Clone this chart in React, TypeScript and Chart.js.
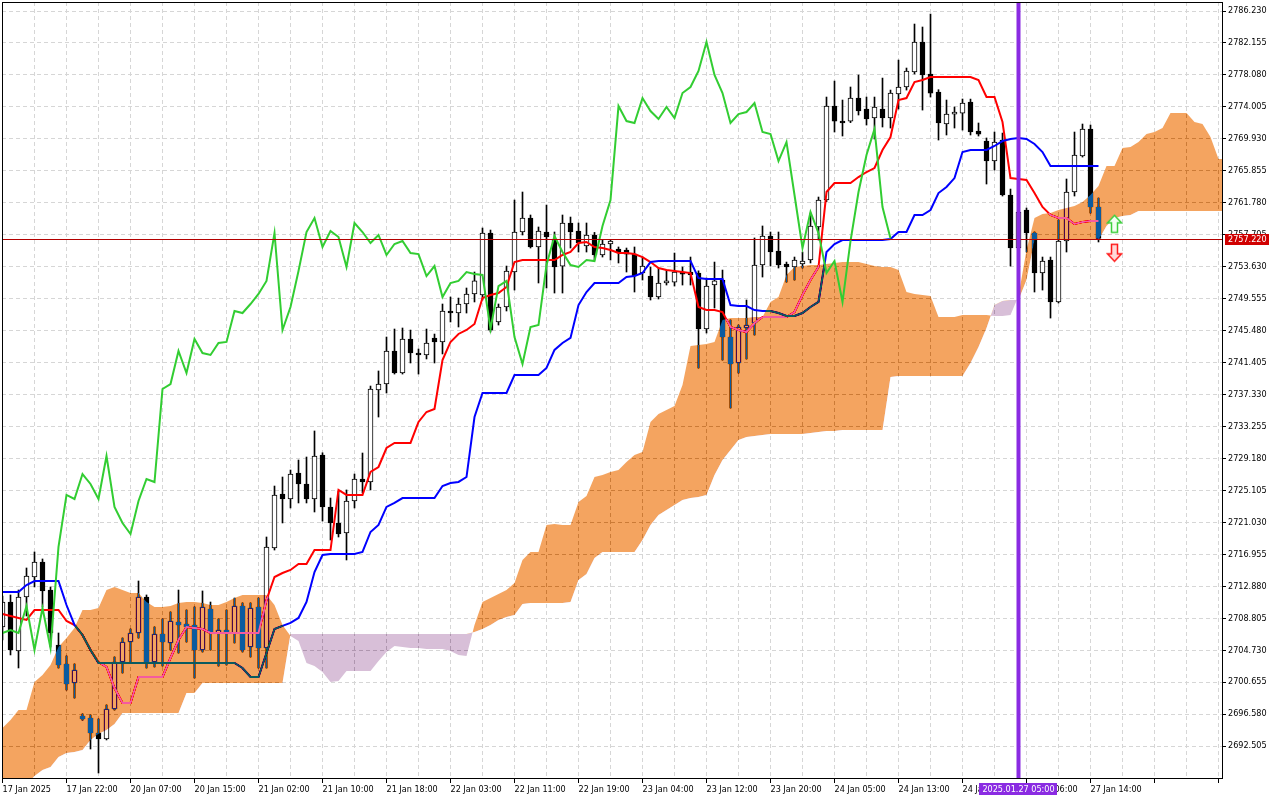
import React, { useEffect, useRef } from "react";
import { Chart, registerables } from "chart.js";

Chart.register(...registerables);

const FONT = "'DejaVu Sans Condensed', 'Liberation Sans', Arial, sans-serif";

// one label every 8 hourly bars
const timeLabels = [
  "17 Jan 2025", "17 Jan 22:00", "20 Jan 07:00", "20 Jan 15:00", "21 Jan 02:00", "21 Jan 10:00",
  "21 Jan 18:00", "22 Jan 03:00", "22 Jan 11:00", "22 Jan 19:00", "23 Jan 04:00", "23 Jan 12:00",
  "23 Jan 20:00", "24 Jan 05:00", "24 Jan 13:00", "24 Jan 21:00", "27 Jan 06:00", "27 Jan 14:00",
];

const priceTicks = [
  2692.505, 2696.58, 2700.655, 2704.73, 2708.805, 2712.88, 2716.955, 2721.03, 2725.105, 2729.18,
  2733.255, 2737.33, 2741.405, 2745.48, 2749.555, 2753.63, 2757.705, 2761.78, 2765.855, 2769.93,
  2774.005, 2778.08, 2782.155, 2786.23,
];

const opens = [
  2707.69, 2710.87, 2704.63, 2711.51, 2714.06, 2715.97, 2712.40, 2705.39, 2702.97, 2700.55,
  2696.34, 2696.08, 2694.17, 2693.41, 2697.23, 2703.22, 2705.77, 2706.92, 2711.51, 2703.22,
  2706.79, 2705.65, 2708.32, 2708.07, 2707.94, 2704.75, 2709.98, 2706.92, 2707.30, 2706.92,
  2710.36, 2705.14, 2710.24, 2705.01, 2717.76, 2724.64, 2724.01, 2727.32, 2725.92, 2724.01,
  2729.62, 2722.99, 2720.95, 2719.67, 2723.75, 2726.56, 2726.17, 2737.90, 2738.67, 2742.88,
  2740.07, 2744.41, 2742.62, 2742.37, 2744.54, 2744.03, 2747.98, 2747.72, 2748.87, 2750.15,
  2750.02, 2757.92, 2746.58, 2748.49, 2752.95, 2758.05, 2759.83, 2756.14, 2758.05, 2757.03,
  2753.71, 2759.20, 2758.18, 2756.27, 2757.67, 2755.12, 2756.52, 2755.88, 2755.75, 2755.24,
  2752.82, 2752.44, 2749.76, 2751.55, 2751.67, 2752.95, 2752.95, 2752.82, 2745.68, 2751.29,
  2751.93, 2744.66, 2741.35, 2745.81, 2746.45, 2753.84, 2757.54, 2755.63, 2753.97, 2753.59,
  2753.97, 2754.48, 2758.69, 2762.13, 2774.11, 2772.20, 2772.20, 2775.13, 2773.73, 2772.59,
  2773.73, 2772.59, 2775.65, 2776.54, 2778.45, 2782.27, 2778.20, 2775.90, 2771.82, 2773.09,
  2773.22, 2774.62, 2770.93, 2769.65, 2767.10, 2769.78, 2762.77, 2756.01, 2760.85, 2757.92,
  2752.82, 2754.48, 2749.13, 2756.90, 2763.15, 2767.74, 2771.18, 2761.24,
];

const highs = [
  2711.64, 2711.77, 2712.40, 2715.21, 2717.25, 2716.36, 2712.79, 2706.92, 2703.99, 2702.97,
  2696.60, 2696.47, 2695.96, 2697.74, 2703.86, 2706.28, 2707.43, 2713.55, 2711.77, 2707.69,
  2708.71, 2709.60, 2712.40, 2709.85, 2710.24, 2712.28, 2710.87, 2708.71, 2709.85, 2711.38,
  2710.75, 2710.75, 2711.38, 2719.16, 2725.66, 2726.81, 2727.70, 2728.98, 2729.36, 2732.68,
  2729.90, 2724.13, 2725.03, 2725.16, 2727.19, 2729.87, 2738.41, 2740.33, 2744.66, 2745.68,
  2745.81, 2745.55, 2743.13, 2745.68, 2745.04, 2748.87, 2749.76, 2749.63, 2750.91, 2752.95,
  2758.56, 2758.30, 2748.87, 2753.71, 2762.13, 2763.15, 2760.22, 2758.69, 2761.49, 2758.05,
  2760.22, 2759.96, 2759.20, 2759.20, 2758.00, 2757.03, 2757.10, 2756.14, 2756.01, 2756.14,
  2754.86, 2753.59, 2753.46, 2753.20, 2755.37, 2753.59, 2754.86, 2753.10, 2752.18, 2754.22,
  2753.20, 2746.83, 2746.19, 2749.38, 2757.29, 2758.82, 2758.05, 2758.05, 2754.22, 2754.86,
  2755.50, 2760.47, 2762.51, 2775.26, 2777.30, 2774.88, 2776.54, 2778.07, 2775.26, 2775.26,
  2777.68, 2776.15, 2779.98, 2778.96, 2784.57, 2784.19, 2785.84, 2776.20, 2774.88, 2773.99,
  2775.01, 2775.00, 2771.95, 2770.04, 2770.80, 2770.67, 2763.53, 2761.49, 2761.11, 2758.05,
  2754.86, 2754.86, 2759.58, 2764.81, 2770.80, 2771.82, 2771.69, 2762.38,
];

const lows = [
  2706.03, 2704.12, 2702.46, 2709.09, 2712.79, 2710.24, 2705.14, 2702.46, 2699.65, 2698.63,
  2695.80, 2692.13, 2689.07, 2693.28, 2697.10, 2701.82, 2703.22, 2706.28, 2702.46, 2702.59,
  2702.71, 2704.75, 2704.37, 2705.77, 2701.18, 2704.50, 2704.75, 2702.71, 2702.84, 2705.65,
  2704.50, 2703.86, 2702.46, 2702.46, 2717.50, 2720.95, 2722.86, 2723.50, 2723.50, 2722.35,
  2721.20, 2718.78, 2719.16, 2716.23, 2722.86, 2724.77, 2725.16, 2734.46, 2737.52, 2739.94,
  2739.94, 2741.35, 2739.94, 2741.86, 2741.35, 2742.50, 2746.58, 2745.94, 2747.72, 2749.13,
  2749.38, 2745.30, 2746.19, 2747.98, 2750.65, 2757.67, 2756.01, 2751.55, 2750.91, 2750.27,
  2750.27, 2756.01, 2755.50, 2755.50, 2754.48, 2754.86, 2754.48, 2754.10, 2752.95, 2750.40,
  2751.93, 2749.38, 2749.51, 2751.29, 2751.16, 2751.29, 2751.29, 2740.71, 2745.17, 2748.36,
  2741.73, 2735.61, 2740.07, 2741.86, 2744.92, 2752.31, 2753.71, 2753.46, 2751.67, 2751.93,
  2753.46, 2754.10, 2757.03, 2761.90, 2770.80, 2770.29, 2772.00, 2772.97, 2771.69, 2769.91,
  2771.44, 2771.31, 2773.73, 2776.15, 2778.20, 2773.60, 2775.26, 2769.78, 2770.42, 2771.31,
  2771.05, 2770.42, 2770.29, 2764.17, 2765.95, 2762.64, 2753.71, 2754.22, 2755.50, 2750.40,
  2750.65, 2747.08, 2749.00, 2755.50, 2762.64, 2767.61, 2760.47, 2756.78,
];

const closes = [
  2710.87, 2704.75, 2711.51, 2714.19, 2715.97, 2712.28, 2706.92, 2702.84, 2700.42, 2702.20,
  2695.96, 2694.17, 2693.41, 2697.23, 2703.22, 2705.77, 2706.92, 2711.51, 2703.10, 2706.79,
  2705.77, 2708.45, 2707.94, 2707.69, 2704.75, 2710.24, 2706.92, 2707.30, 2706.92, 2710.36,
  2704.75, 2710.11, 2705.01, 2717.89, 2724.52, 2724.01, 2727.19, 2725.92, 2724.01, 2729.49,
  2722.99, 2720.95, 2719.54, 2723.75, 2726.56, 2726.17, 2738.03, 2738.67, 2742.88, 2740.07,
  2744.41, 2742.62, 2742.37, 2743.90, 2744.03, 2747.98, 2747.72, 2748.87, 2750.15, 2751.81,
  2757.92, 2745.55, 2748.49, 2753.08, 2758.05, 2759.83, 2756.14, 2758.18, 2757.41, 2753.59,
  2759.20, 2758.05, 2756.65, 2757.67, 2755.12, 2756.52, 2756.90, 2755.37, 2755.24, 2752.44,
  2753.71, 2749.76, 2751.55, 2751.81, 2752.95, 2752.69, 2752.57, 2745.68, 2751.16, 2751.81,
  2744.66, 2741.22, 2745.94, 2746.19, 2753.84, 2757.54, 2755.50, 2753.84, 2753.59, 2754.48,
  2754.35, 2758.82, 2762.13, 2774.11, 2772.20, 2771.95, 2775.13, 2773.48, 2772.46, 2773.99,
  2772.59, 2775.77, 2776.54, 2778.58, 2782.27, 2778.07, 2775.77, 2771.95, 2773.09, 2773.35,
  2774.50, 2770.80, 2770.54, 2767.10, 2769.52, 2762.77, 2756.01, 2760.60, 2757.92, 2752.82,
  2754.35, 2749.13, 2756.90, 2763.15, 2767.87, 2771.18, 2761.24, 2757.22,
];

const tenkan = [
  2709.35, 2709.09, 2708.84, 2708.58, 2709.85, 2709.85, 2709.85, 2709.85, 2708.45, 2707.94,
  2706.67, 2704.75, 2703.22, 2702.59, 2699.90, 2698.00, 2698.00, 2701.31, 2701.31, 2701.31,
  2701.31, 2703.73, 2706.03, 2707.69, 2707.56, 2707.43, 2706.92, 2706.92, 2706.92, 2706.92,
  2706.92, 2706.92, 2706.92, 2711.13, 2714.06, 2714.57, 2714.96, 2715.72, 2715.72, 2717.50,
  2717.50, 2717.50, 2725.16, 2724.52, 2724.52, 2724.52, 2727.45, 2728.09, 2730.51, 2731.15,
  2731.15, 2731.15, 2733.83, 2735.10, 2735.49, 2741.73, 2744.03, 2745.05, 2745.56, 2746.32,
  2749.63, 2750.02, 2750.27, 2751.04, 2754.22, 2754.48, 2754.48, 2754.48, 2754.48, 2754.48,
  2755.12, 2755.50, 2756.65, 2756.78, 2756.14, 2756.01, 2755.75, 2755.37, 2755.37, 2755.24,
  2754.86, 2754.22, 2753.46, 2753.20, 2753.08, 2752.95, 2752.82, 2748.49, 2748.10, 2748.10,
  2747.85, 2745.94, 2745.56, 2745.30, 2746.45, 2747.21, 2747.21, 2747.21, 2747.21, 2747.85,
  2750.02, 2751.93, 2753.59, 2763.15, 2764.30, 2764.30, 2764.30, 2765.06, 2765.70, 2766.21,
  2768.51, 2770.16, 2774.88, 2775.13, 2777.18, 2777.43, 2777.81, 2777.81, 2777.81, 2777.81,
  2777.81, 2777.81, 2777.43, 2775.26, 2775.26, 2772.07, 2764.93, 2764.81, 2764.68, 2763.02,
  2761.24, 2760.22, 2759.84, 2759.84, 2759.07, 2759.33, 2759.45, 2759.45,
];

const kijun = [
  2712.15, 2712.15, 2712.15, 2713.04, 2713.55, 2713.55, 2713.55, 2713.55, 2710.49, 2707.94,
  2706.67, 2704.75, 2703.10, 2703.10, 2703.10, 2703.10, 2703.10, 2703.10, 2703.10, 2703.10,
  2703.10, 2703.10, 2703.10, 2703.10, 2703.10, 2703.10, 2703.10, 2703.10, 2703.10, 2703.10,
  2702.46, 2701.31, 2701.31, 2704.37, 2707.43, 2707.82, 2708.20, 2708.84, 2710.87, 2714.70,
  2716.87, 2717.00, 2717.00, 2717.00, 2717.00, 2717.25, 2719.80, 2720.69, 2722.99, 2723.50,
  2724.13, 2724.13, 2724.13, 2724.13, 2724.13, 2725.67, 2726.05, 2726.18, 2726.81, 2734.46,
  2737.52, 2737.52, 2737.52, 2737.52, 2739.82, 2739.82, 2739.82, 2739.82, 2740.71, 2743.01,
  2743.90, 2744.54, 2748.74, 2750.40, 2751.55, 2751.55, 2751.55, 2751.55, 2752.31, 2752.44,
  2752.82, 2754.22, 2754.35, 2754.35, 2754.35, 2754.35, 2754.35, 2752.18, 2752.06, 2752.06,
  2752.06, 2748.74, 2748.61, 2748.61, 2748.10, 2747.98, 2747.98, 2747.72, 2747.34, 2747.34,
  2747.72, 2748.49, 2749.13, 2755.50, 2756.52, 2757.03, 2757.03, 2757.03, 2757.03, 2757.03,
  2757.03, 2757.16, 2758.05, 2758.05, 2760.22, 2760.22, 2760.86, 2763.02, 2763.79, 2764.93,
  2768.25, 2768.51, 2768.51, 2768.51, 2769.02, 2769.65, 2769.91, 2770.04, 2769.91, 2769.27,
  2768.25, 2766.47, 2766.47, 2766.47, 2766.47, 2766.47, 2766.47, 2766.47,
];

// senkou spans, already shifted forward
const spanA = [
  2694.81, 2695.83, 2697.11, 2697.11, 2700.68, 2701.57, 2702.84, 2705.14, 2706.28, 2707.56,
  2709.85, 2709.85, 2710.11, 2712.40, 2712.79, 2712.40, 2712.02, 2712.02, 2710.87, 2710.24,
  2710.24, 2710.36, 2710.75, 2710.87, 2710.87, 2710.75, 2710.49, 2710.49, 2710.87, 2711.38,
  2711.77, 2711.77, 2711.77, 2711.77, 2710.49, 2707.94, 2706.54, 2705.90, 2703.10, 2702.72,
  2701.95, 2700.68, 2700.80, 2702.08, 2702.08, 2702.08, 2702.08, 2703.35, 2704.50, 2705.27,
  2705.14, 2705.01, 2705.01, 2704.88, 2704.88, 2704.88, 2704.63, 2704.12, 2703.99, 2707.94,
  2710.87, 2711.38, 2711.89, 2712.40, 2713.30, 2716.23, 2717.25, 2717.25, 2720.69, 2720.82,
  2720.69, 2720.69, 2723.62, 2724.39, 2726.81, 2727.07, 2727.45, 2727.71, 2728.73, 2729.62,
  2730.00, 2733.83, 2734.85, 2735.36, 2735.87, 2738.54, 2743.52, 2743.65, 2743.77, 2744.03,
  2746.83, 2747.08, 2747.08, 2747.08, 2747.21, 2747.21, 2749.13, 2749.76, 2752.57, 2753.59,
  2753.71, 2753.84, 2753.84, 2753.97, 2754.10, 2754.22, 2754.22, 2754.22, 2753.97, 2753.71,
  2753.59, 2753.59, 2753.20, 2750.40, 2750.15, 2750.02, 2749.89, 2747.21, 2747.21, 2747.21,
  2747.47, 2747.47, 2747.47, 2747.47, 2747.34, 2747.34, 2747.47, 2749.89, 2755.75, 2759.83,
  2760.35, 2760.47, 2760.86, 2761.11, 2761.37, 2761.88, 2762.77, 2763.92, 2766.47, 2766.47,
  2768.76, 2768.89, 2769.53, 2770.55, 2770.80, 2771.31, 2773.22, 2773.22, 2773.22, 2772.07,
  2771.82, 2770.16, 2767.36, 2767.36,
];

const spanB = [
  2685.63, 2686.27, 2686.90, 2687.54, 2688.69, 2689.46, 2689.84, 2691.11, 2691.62, 2691.75,
  2692.00, 2693.28, 2694.05, 2694.56, 2695.32, 2696.72, 2696.72, 2696.72, 2696.72, 2696.72,
  2696.72, 2696.72, 2696.72, 2699.27, 2699.27, 2700.55, 2700.55, 2700.55, 2700.55, 2700.55,
  2700.55, 2700.55, 2700.55, 2700.55, 2700.55, 2700.55, 2706.79, 2706.79, 2706.79, 2706.79,
  2706.79, 2706.79, 2706.79, 2706.79, 2706.79, 2706.79, 2706.79, 2706.79, 2706.79, 2706.79,
  2706.79, 2706.79, 2706.79, 2706.79, 2706.79, 2706.79, 2706.79, 2706.79, 2706.79, 2707.05,
  2707.43, 2707.94, 2708.58, 2708.96, 2709.22, 2710.62, 2710.75, 2710.75, 2710.75, 2710.75,
  2710.75, 2710.87, 2713.68, 2714.45, 2716.48, 2717.25, 2717.25, 2717.25, 2717.25, 2717.25,
  2718.78, 2720.69, 2721.97, 2722.61, 2723.24, 2723.88, 2724.13, 2724.26, 2724.52, 2727.07,
  2728.98, 2730.26, 2731.53, 2731.91, 2732.04, 2732.17, 2732.30, 2732.30, 2732.30, 2732.30,
  2732.30, 2732.42, 2732.55, 2732.68, 2732.68, 2732.81, 2732.81, 2732.81, 2732.81, 2732.81,
  2732.81, 2739.56, 2739.69, 2739.69, 2739.69, 2739.69, 2739.69, 2739.69, 2739.69, 2739.69,
  2739.69, 2741.35, 2743.39, 2745.81, 2748.74, 2749.25, 2749.38, 2749.38, 2751.93, 2757.03,
  2757.03, 2757.03, 2757.03, 2757.03, 2757.03, 2757.03, 2757.03, 2757.03, 2758.82, 2759.84,
  2760.09, 2760.22, 2760.73, 2760.73, 2760.73, 2760.73, 2760.73, 2760.73, 2760.73, 2760.73,
  2760.73, 2760.73, 2760.73, 2760.73,
];

const chikouShift = 26;
const bidPrice = 2757.22;
const sessionBar = 127;
const sessionLabel = "2025.01.27 05:00";
const signalBar = 139;
const buyArrowPrice = 2759.1;
const sellArrowPrice = 2755.4;

const SPAN_A = 4;
const SPAN_B = 5;

function makeArrow(up: boolean, stroke: string, fill: string): HTMLCanvasElement {
  const c = document.createElement("canvas");
  c.width = 17;
  c.height = 20;
  const g = c.getContext("2d") as CanvasRenderingContext2D;
  const pts = [[8.5, 1.5], [15.5, 9], [11.5, 9], [11.5, 18.5], [5.5, 18.5], [5.5, 9], [1.5, 9]];
  g.beginPath();
  pts.forEach(([px, py], k) => {
    const yy = up ? py : 20 - py;
    if (k === 0) g.moveTo(px, yy);
    else g.lineTo(px, yy);
  });
  g.closePath();
  g.fillStyle = fill;
  g.fill();
  g.lineWidth = 1.5;
  g.strokeStyle = stroke;
  g.stroke();
  return c;
}

const terminalPlugin = {
  id: "terminal",
  beforeDraw(chart: any) {
    const c = chart.ctx;
    c.save();
    c.fillStyle = "#ffffff";
    c.fillRect(0, 0, chart.width, chart.height);
    c.restore();
  },
  afterDatasetDraw(chart: any, args: any) {
    // cloud gets painted in difference mode (the terminal XORs it over the candles)
    if (args.index === SPAN_B) chart.ctx.globalCompositeOperation = "difference";
    if (args.index === SPAN_A) chart.ctx.globalCompositeOperation = "source-over";
  },
  afterDatasetsDraw(chart: any) {
    const c = chart.ctx;
    const a = chart.chartArea;
    const yb = Math.round(chart.scales.y.getPixelForValue(bidPrice)) + 0.5;
    const xs = chart.scales.x.getPixelForValue(sessionBar);
    c.save();
    c.globalCompositeOperation = "source-over";
    c.strokeStyle = "#b40000";
    c.lineWidth = 1;
    c.beginPath();
    c.moveTo(a.left, yb);
    c.lineTo(a.right, yb);
    c.stroke();
    c.strokeStyle = "#8a2be2";
    c.lineWidth = 4;
    c.beginPath();
    c.moveTo(xs, a.top);
    c.lineTo(xs, a.bottom);
    c.stroke();
    c.restore();
  },
  afterDraw(chart: any) {
    const c = chart.ctx;
    const a = chart.chartArea;
    const yb = Math.round(chart.scales.y.getPixelForValue(bidPrice)) + 0.5;
    const xs = chart.scales.x.getPixelForValue(sessionBar);
    c.save();
    c.strokeStyle = "#000000";
    c.lineWidth = 1;
    c.strokeRect(a.left + 0.5, a.top + 0.5, a.right - a.left, a.bottom - a.top);

    c.font = `9px ${FONT}`;
    c.textBaseline = "middle";
    const tw = c.measureText(sessionLabel).width + 6;
    c.fillStyle = "#8a2be2";
    c.fillRect(Math.round(xs - tw / 2), a.bottom + 5, Math.round(tw), 12);
    c.fillStyle = "#ffffff";
    c.textAlign = "center";
    c.fillText(sessionLabel, xs, a.bottom + 11.5);

    c.fillStyle = "#d00000";
    c.fillRect(a.right + 3, Math.round(yb - 6), 44, 11);
    c.fillStyle = "#ffffff";
    c.textAlign = "left";
    c.fillText(bidPrice.toFixed(3), a.right + 6, yb);
    c.restore();
  },
};

const App: React.FC = () => {
  const chartRef = useRef<HTMLCanvasElement | null>(null);
  const chartInstance = useRef<Chart | null>(null);

  useEffect(() => {
    if (!chartRef.current) return;
    const ctx = chartRef.current.getContext("2d");
    if (!ctx) return;
    if (chartInstance.current) chartInstance.current.destroy();

    Chart.defaults.font.family = FONT;

    const bars = opens.map((_, i) => i);
    const line = (vals: number[]) => vals.map((v, i) => ({ x: i, y: v }));
    const gridBars: number[] = [];
    for (let v = 0; v <= 152; v += 4) gridBars.push(v);

    const tickFont = { family: FONT, size: 9 };

    chartInstance.current = new Chart(ctx, {
      type: "line",
      data: {
        datasets: [
          {
            type: "bar",
            label: "wicks",
            data: bars.map((i) => ({ x: i, y: [lows[i], highs[i]] })),
            backgroundColor: "#000000",
            borderWidth: 0,
            barThickness: 1,
            grouped: false,
            clip: 0,
            order: 60,
          },
          {
            type: "bar",
            label: "bodies",
            data: bars.map((i) => ({ x: i, y: [opens[i], closes[i]] })),
            backgroundColor: bars.map((i) => (closes[i] >= opens[i] ? "#ffffff" : "#000000")),
            borderColor: "#000000",
            borderWidth: 1,
            borderSkipped: false,
            barThickness: 5,
            minBarLength: 1,
            grouped: false,
            clip: 0,
            order: 50,
          },
          {
            label: "Tenkan-sen",
            data: line(tenkan),
            borderColor: "#ff0000",
            borderWidth: 2,
            pointRadius: 0,
            tension: 0,
            fill: false,
            order: 40,
          },
          {
            label: "Kijun-sen",
            data: line(kijun),
            borderColor: "#0000ff",
            borderWidth: 2,
            pointRadius: 0,
            tension: 0,
            fill: false,
            order: 30,
          },
          {
            label: "Senkou Span A",
            data: line(spanA),
            borderWidth: 0,
            borderColor: "rgba(0,0,0,0)",
            pointRadius: 0,
            tension: 0,
            fill: { target: SPAN_B, above: "#0b5b9f", below: "#274027" },
            order: 10,
          },
          {
            label: "Senkou Span B",
            data: line(spanB),
            borderWidth: 0,
            borderColor: "rgba(0,0,0,0)",
            pointRadius: 0,
            tension: 0,
            fill: false,
            order: 20,
          },
          {
            label: "Chikou Span",
            data: line(closes.slice(chikouShift)),
            borderColor: "#32cd32",
            borderWidth: 2,
            pointRadius: 0,
            tension: 0,
            fill: false,
            order: 5,
          },
          {
            label: "buy",
            data: [{ x: signalBar, y: buyArrowPrice }],
            showLine: false,
            pointStyle: makeArrow(true, "#3ccf3c", "#f4fff4"),
            pointRadius: 8,
            order: 1,
          },
          {
            label: "sell",
            data: [{ x: signalBar, y: sellArrowPrice }],
            showLine: false,
            pointStyle: makeArrow(false, "#ff1a1a", "#ffd9d9"),
            pointRadius: 8,
            order: 0,
          },
        ],
      } as any,
      options: {
        responsive: false,
        animation: false,
        events: [],
        layout: { autoPadding: false, padding: { left: 2, top: 2, right: 0, bottom: 0 } },
        plugins: { legend: { display: false }, tooltip: { enabled: false } },
        scales: {
          x: {
            type: "linear",
            min: -0.0625,
            max: 152.4375,
            offset: false,
            afterBuildTicks: (scale: any) => {
              scale.ticks = gridBars.map((v) => ({ value: v }));
            },
            afterFit: (scale: any) => {
              scale.height = 22;
              scale.paddingLeft = 0;
              scale.paddingRight = 0;
              scale.paddingTop = 0;
              scale.paddingBottom = 0;
            },
            ticks: {
              autoSkip: false,
              maxRotation: 0,
              minRotation: 0,
              align: "start",
              padding: 1,
              color: "#000000",
              font: tickFont,
              callback: (v: any) => {
                const n = Number(v);
                return n % 8 === 0 ? timeLabels[n / 8] ?? "" : "";
              },
            },
            grid: {
              offset: false,
              color: "#d6d6d6",
              tickColor: (c: any) => (c.tick && c.tick.value % 8 === 0 ? "#000000" : "rgba(0,0,0,0)"),
              tickLength: 5,
            },
            border: { display: false, dash: [4, 3] },
          },
          y: {
            type: "linear",
            position: "right",
            min: 2688.43,
            max: 2787.38,
            beginAtZero: false,
            afterBuildTicks: (scale: any) => {
              scale.ticks = priceTicks.map((v) => ({ value: v }));
            },
            afterFit: (scale: any) => {
              scale.width = 58;
              scale.paddingTop = 0;
              scale.paddingBottom = 0;
              scale.paddingLeft = 0;
              scale.paddingRight = 0;
            },
            ticks: {
              padding: 2,
              color: "#000000",
              font: tickFont,
              callback: (v: any) => Number(v).toFixed(3),
            },
            grid: { color: "#d6d6d6", tickColor: "#000000", tickLength: 4 },
            border: { display: false, dash: [4, 3] },
          },
        },
      } as any,
      plugins: [terminalPlugin as any],
    });

    return () => {
      if (chartInstance.current) {
        chartInstance.current.destroy();
        chartInstance.current = null;
      }
    };
  }, []);

  return (
    <div style={{ position: "fixed", left: 0, top: 0, width: 1280, height: 800, background: "#ffffff" }}>
      <canvas ref={chartRef} width={1280} height={800} style={{ display: "block" }} />
    </div>
  );
};

export default App;
